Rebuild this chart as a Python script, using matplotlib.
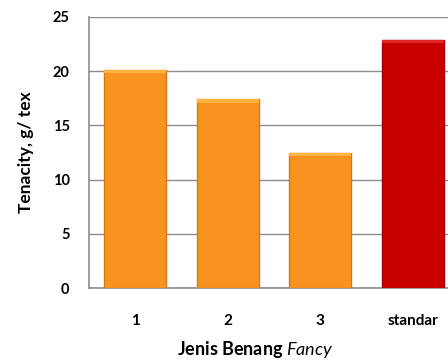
import matplotlib
matplotlib.use("Agg")
import matplotlib.pyplot as plt

# data
categories = ["1", "2", "3", "standar"]
tenacity = [20.1, 17.4, 12.45, 22.9]
bar_colors = ["#F7931E", "#F7931E", "#F7931E", "#C80000"]
edge_colors = ["#D9771A", "#D9771A", "#D9771A", "#9E0000"]
top_colors = ["#FFB440", "#FFB440", "#FFB440", "#E02424"]
yticks = [0, 5, 10, 15, 20, 25]

plt.rcParams['font.family'] = ['Lato', 'DejaVu Sans']
plt.rcParams['mathtext.fontset'] = 'custom'
plt.rcParams['mathtext.it'] = 'Lato:italic'
plt.rcParams['mathtext.rm'] = 'Lato'

fig = plt.figure(figsize=(4.48, 3.64), dpi=100)
ax = fig.add_axes([89/448, 76/364, 370/448, 271/364])

x = list(range(len(categories)))
ax.bar(x, tenacity, width=0.67, color=bar_colors, edgecolor=edge_colors,
       linewidth=1.0, zorder=3)
# light bevel along the top of each bar
ax.bar(x, [0.3] * len(x), bottom=[v - 0.3 for v in tenacity], width=0.67,
       color=top_colors, linewidth=0, zorder=4)

ax.set_xlim(-0.5, 3.5)
ax.set_ylim(0, 25)
ax.set_yticks(yticks)
ax.set_xticks(x)
ax.set_xticklabels(categories)
ax.yaxis.grid(True, color='#8C8C8C', linewidth=1.0, zorder=0)
ax.set_axisbelow(True)

for s in ['top', 'right']:
    ax.spines[s].set_visible(False)
for s in ['left', 'bottom']:
    ax.spines[s].set_color('#8C8C8C')
    ax.spines[s].set_linewidth(1.2)

ax.tick_params(axis='y', length=0, pad=14, labelsize=10.5)
ax.tick_params(axis='x', length=0, pad=19, labelsize=11)
for lab in ax.get_xticklabels() + ax.get_yticklabels():
    lab.set_fontweight('bold')

ax.set_ylabel('Tenacity, g/ tex', fontsize=12.5, fontweight='bold', labelpad=13)
ax.set_xlabel(r'Jenis Benang $\it{Fancy}$', fontsize=13, fontweight='bold')
ax.xaxis.set_label_coords(0.45, -0.19)

fig.savefig('out.png', dpi=100)
